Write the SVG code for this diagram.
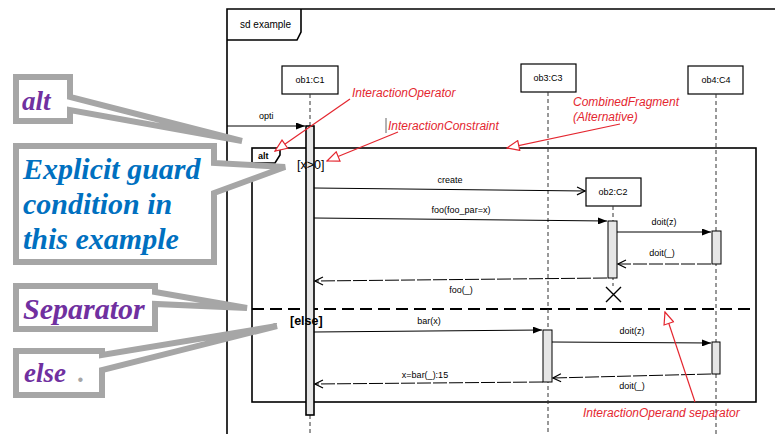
<svg xmlns="http://www.w3.org/2000/svg" width="775" height="434" viewBox="0 0 775 434">
<defs>
<style>
.frame{fill:none;stroke:#000;stroke-width:1.6}
.box{fill:#fff;stroke:#000;stroke-width:1.2}
.life{stroke:#333;stroke-width:1;stroke-dasharray:4 3;fill:none}
.act{fill:#e6e6e6;stroke:#000;stroke-width:1}
.msg{stroke:#000;stroke-width:1;fill:none}
.ret{stroke:#000;stroke-width:1;fill:none;stroke-dasharray:14 2}
.lbl{font-family:"Liberation Sans",Arial,sans-serif;font-size:9px;fill:#000;text-anchor:middle}
.red{font-family:"Liberation Sans",Arial,sans-serif;font-size:12px;font-style:italic;fill:#e4262f}
.redl{stroke:#e4262f;stroke-width:1.2;fill:none}
.call{fill:#fff;stroke:#a6a6a6;stroke-width:6;stroke-linejoin:miter;stroke-miterlimit:3}
.ct{font-family:"Liberation Serif","Times New Roman",serif;font-weight:bold;font-style:italic;font-size:27px}
.big{font-size:30px}
</style>
<marker id="fill" markerUnits="userSpaceOnUse" viewBox="0 0 9 7" refX="9" refY="3.5" markerWidth="9" markerHeight="7" orient="auto"><path d="M0,0 L9,3.5 L0,7 Z" fill="#000"/></marker>
<marker id="open" markerUnits="userSpaceOnUse" viewBox="0 0 10 10" refX="9" refY="5" markerWidth="10" markerHeight="10" orient="auto"><path d="M1,1 L9,5 L1,9" fill="none" stroke="#000" stroke-width="1.2"/></marker>
<marker id="hollow" markerUnits="userSpaceOnUse" viewBox="0 0 14 12" refX="13" refY="6" markerWidth="14" markerHeight="12" orient="auto"><path d="M1,1 L13,6 L1,11 Z" fill="#fff" stroke="#e4262f" stroke-width="1.2"/></marker>
</defs>
<rect width="775" height="434" fill="#fff"/>

<g id="sd-frame">
<path class="frame" d="M227,434 V9 H775"/>
<path class="frame" d="M227,40 H297 L301,32 V9"/>
<text x="240" y="28" font-family="Liberation Sans,Arial,sans-serif" font-size="10">sd example</text>
</g>

<g id="alt-fragment">
<rect class="frame" x="252" y="148" width="504" height="254"/>
<path class="frame" d="M252,163 H275 L280,155 V148"/>
<text x="258" y="159" font-family="Liberation Sans,Arial,sans-serif" font-size="9" font-weight="bold">alt</text>
<line x1="252" y1="309" x2="756" y2="309" stroke="#000" stroke-width="2" stroke-dasharray="12 6"/>
</g>

<g id="ob1">
<rect class="box" x="282" y="66" width="56" height="28"/>
<text class="lbl" x="310" y="83">ob1:C1</text>
<line class="life" x1="310" y1="94" x2="310" y2="126"/>
<line class="life" x1="310" y1="415" x2="310" y2="434"/>
<rect x="306" y="126" width="8" height="289" fill="#e6e6e6" stroke="#000" stroke-width="1.6"/>
</g>

<g id="ob3">
<rect class="box" x="521" y="64" width="55" height="28"/>
<text class="lbl" x="548" y="81">ob3:C3</text>
<line class="life" x1="548" y1="92" x2="548" y2="434"/>
<rect class="act" x="543" y="330" width="9" height="52"/>
</g>

<g id="ob4">
<rect class="box" x="688" y="66" width="55" height="28"/>
<text class="lbl" x="716" y="83">ob4:C4</text>
<line class="life" x1="716" y1="94" x2="716" y2="434"/>
<rect class="act" x="712" y="231" width="9" height="33"/>
<rect class="act" x="712" y="342" width="8" height="32"/>
</g>

<g id="ob2">
<rect class="box" x="586" y="178" width="55" height="28"/>
<text class="lbl" x="613" y="195">ob2:C2</text>
<line class="life" x1="613" y1="206" x2="613" y2="286"/>
<rect class="act" x="608" y="221" width="9" height="57"/>
<path d="M606,287 L621,302 M621,287 L606,302" stroke="#000" stroke-width="1.4"/>
</g>

<g id="guards">
<text x="297" y="169" font-family="Liberation Sans,Arial,sans-serif" font-size="12.5">[x&gt;0]</text>
<text x="290" y="325" font-family="Liberation Sans,Arial,sans-serif" font-size="12.5" font-weight="bold">[else]</text>
</g>

<g id="connectors">
<line class="msg" x1="227" y1="126" x2="305" y2="126" marker-end="url(#fill)"/>
<line class="msg" x1="314" y1="188" x2="585" y2="191" marker-end="url(#open)"/>
<line class="msg" x1="314" y1="218" x2="607" y2="221" marker-end="url(#fill)"/>
<line class="msg" x1="617" y1="232" x2="711" y2="232" marker-end="url(#fill)"/>
<line class="ret" x1="711" y1="264" x2="618" y2="264" marker-end="url(#open)"/>
<line class="ret" x1="607" y1="278" x2="315" y2="281" marker-end="url(#open)"/>
<line class="msg" x1="314" y1="332" x2="542" y2="330" marker-end="url(#fill)"/>
<line class="msg" x1="552" y1="342" x2="711" y2="343" marker-end="url(#fill)"/>
<line class="ret" x1="711" y1="374" x2="553" y2="378" marker-end="url(#open)"/>
<line class="ret" x1="543" y1="382" x2="315" y2="384" marker-end="url(#open)"/>
</g>

<g id="message-labels">
<text x="259" y="119" font-family="Liberation Sans,Arial,sans-serif" font-size="9">opti</text>
<text class="lbl" x="450" y="183">create</text>
<text class="lbl" x="461" y="213">foo(foo_par=x)</text>
<text class="lbl" x="664" y="225">doit(z)</text>
<text class="lbl" x="662" y="256">doit(_)</text>
<text class="lbl" x="461" y="293">foo(_)</text>
<text class="lbl" x="429" y="324">bar(x)</text>
<text class="lbl" x="632" y="334">doit(z)</text>
<text class="lbl" x="632" y="389">doit(_)</text>
<text class="lbl" x="425" y="378">x=bar(_):15</text>
</g>

<g id="annotations">
<text class="red" x="352" y="97">InteractionOperator</text>
<line class="redl" x1="350" y1="99" x2="275" y2="151" marker-end="url(#hollow)"/>
<line x1="386" y1="118" x2="386" y2="133" stroke="#666" stroke-width="1"/>
<text class="red" x="388" y="130">InteractionConstraint</text>
<line class="redl" x1="398" y1="132" x2="327" y2="161" marker-end="url(#hollow)"/>
<text class="red" x="573" y="106">CombinedFragment</text>
<text class="red" x="573" y="121">(Alternative)</text>
<line class="redl" x1="620" y1="124" x2="507" y2="148" marker-end="url(#hollow)"/>
<text class="red" x="583" y="417">InteractionOperand separator</text>
<line class="redl" x1="695" y1="402" x2="665" y2="312" marker-end="url(#hollow)"/>
</g>

<g id="callout-alt">
<path class="call" d="M16,77 H70 V97 L242,141 L70,110 V121 H16 Z"/>
<text class="ct" x="22" y="110" fill="#7030a0">alt</text>
</g>
<g id="callout-guard">
<path class="call" d="M16,146 H214 V163 L285,167 L214,193 V262 H16 Z"/>
<text class="ct big" x="23" y="179" fill="#0070c0">Explicit guard</text>
<text class="ct big" x="23" y="214" fill="#0070c0">condition in</text>
<text class="ct big" x="23" y="249" fill="#0070c0">this example</text>
</g>
<g id="callout-separator">
<path class="call" d="M16,286 H155 V292 L247,308 L155,304 V329 H16 Z"/>
<text class="ct big" x="23" y="319" fill="#7030a0">Separator</text>
</g>
<g id="callout-else">
<path class="call" d="M16,351 H102 V355 L277,326 L102,370 V395 H16 Z"/>
<text class="ct" x="24" y="382" fill="#7030a0">else</text>
<text class="ct" x="78" y="382" fill="#a6a6a6">.</text>
</g>
</svg>
